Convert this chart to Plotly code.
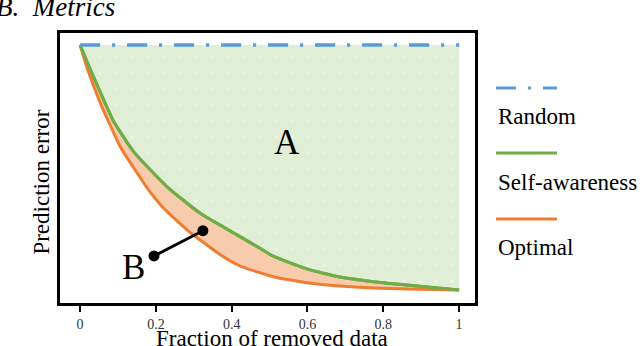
import plotly.graph_objects as go

# data
random_x = [0, 1]
random_y = [1, 1]

aware_x = [0, 0.03, 0.061, 0.088, 0.141, 0.229, 0.317, 0.422, 0.475, 0.51,
           0.598, 0.686, 0.774, 0.862, 1.0]
aware_y = [1, 0.89, 0.78, 0.69, 0.565, 0.422, 0.313, 0.218, 0.17, 0.138,
           0.086, 0.053, 0.034, 0.02, 0]

optimal_x = [0, 0.02, 0.053, 0.106, 0.141, 0.18, 0.22, 0.29, 0.317, 0.369,
             0.422, 0.51, 0.598, 0.686, 0.774, 0.862, 1.0]
optimal_y = [1, 0.9, 0.765, 0.585, 0.5, 0.41, 0.335, 0.235, 0.204, 0.145,
             0.098, 0.054, 0.03, 0.016, 0.008, 0.004, 0]

pointer_x = [0.195, 0.324]
pointer_y = [0.139, 0.242]

x_ticks = [0, 0.2, 0.4, 0.6, 0.8, 1]
x_ticklabels = ["0", "0.2", "0.4", "0.6", "0.8", "1"]

legend_names = ["Random", "Self-awareness", "Optimal"]

BLUE = "#5b9bd5"
GREEN = "#70ad47"
ORANGE = "#ed7d31"
SERIF = "Liberation Serif, Times New Roman, DejaVu Serif, serif"
DASHDOT = "20px,12px,3px,12px"

fig = go.Figure()

fig.add_trace(go.Scatter(
    x=random_x, y=random_y, mode="lines",
    line=dict(color=BLUE, width=3, dash=DASHDOT),
    showlegend=False, hoverinfo="skip"
))
fig.add_trace(go.Scatter(
    x=aware_x, y=aware_y, mode="lines",
    line=dict(color=GREEN, width=3, shape="spline", smoothing=0.5),
    fill="tonexty", fillcolor="#e2efda",
    fillpattern=dict(shape=".", fgcolor="rgba(255,255,255,0.75)",
                     bgcolor="#e0eed6", size=16, solidity=0.05),
    showlegend=False, hoverinfo="skip"
))
fig.add_trace(go.Scatter(
    x=optimal_x, y=optimal_y, mode="lines",
    line=dict(color=ORANGE, width=3, shape="spline", smoothing=0.5),
    fill="tonexty", fillcolor="#f8cbad",
    showlegend=False, hoverinfo="skip"
))
# redraw the green and blue lines so they sit above the fills
fig.add_trace(go.Scatter(
    x=aware_x, y=aware_y, mode="lines",
    line=dict(color=GREEN, width=3, shape="spline", smoothing=0.5),
    showlegend=False, hoverinfo="skip"
))
fig.add_trace(go.Scatter(
    x=random_x, y=random_y, mode="lines",
    line=dict(color=BLUE, width=3, dash=DASHDOT),
    showlegend=False, hoverinfo="skip"
))
fig.add_trace(go.Scatter(
    x=pointer_x, y=pointer_y, mode="lines+markers",
    line=dict(color="black", width=3),
    marker=dict(color="black", size=11),
    showlegend=False, hoverinfo="skip"
))

# area labels
fig.add_annotation(x=0.546, y=0.604, text="A", showarrow=False,
                   font=dict(family=SERIF, size=35, color="black"))
fig.add_annotation(x=0.14, y=0.09, text="B", showarrow=False,
                   font=dict(family=SERIF, size=35, color="black"))

# panel title, partly clipped at the top-left like the source
fig.add_annotation(xref="paper", yref="paper", x=0, y=1.095,
                   xanchor="left", yanchor="middle", xshift=-66,
                   text="<i>B.\u00a0\u00a0Metrics</i>", showarrow=False,
                   font=dict(family=SERIF, size=27, color="black"))

# axis titles
fig.add_annotation(xref="paper", yref="paper", x=0.5, y=-0.133,
                   xanchor="center", yanchor="middle", xshift=4,
                   text="Fraction of removed data", showarrow=False,
                   font=dict(family=SERIF, size=23, color="black"))
fig.add_annotation(xref="paper", yref="paper", x=0, y=0.446,
                   xanchor="center", yanchor="middle", xshift=-18,
                   text="Prediction error", textangle=-90, showarrow=False,
                   font=dict(family=SERIF, size=23, color="black"))

# legend drawn as line sample above each name
legend_colors = [BLUE, GREEN, ORANGE]
legend_dash = [DASHDOT, "solid", "solid"]
line_y = [0.796, 0.556, 0.311]
text_y = [0.689, 0.448, 0.207]
for name, color, dash, ly, ty in zip(legend_names, legend_colors,
                                     legend_dash, line_y, text_y):
    fig.add_shape(type="line", xref="paper", yref="paper",
                  x0=1.0506, x1=1.1976, y0=ly, y1=ly,
                  line=dict(color=color, width=3, dash=dash))
    fig.add_annotation(xref="paper", yref="paper", x=1.05, y=ty,
                       xanchor="left", yanchor="middle", text=name,
                       showarrow=False,
                       font=dict(family=SERIF, size=23, color="black"))

fig.update_layout(
    width=640, height=346,
    margin=dict(l=60, r=165, t=33, b=43),
    paper_bgcolor="white", plot_bgcolor="white",
    showlegend=False,
)
fig.update_xaxes(
    range=[-0.053, 1.042], tickvals=x_ticks, ticktext=x_ticklabels,
    showgrid=False, zeroline=False,
    showline=True, linecolor="black", linewidth=3, mirror=True,
    ticks="outside", ticklen=6, tickwidth=2, tickcolor="black",
    tickfont=dict(family=SERIF, size=14, color="#333333"),
    ticklabelstandoff=0,
)
fig.update_yaxes(
    range=[-0.053, 1.049], showticklabels=False,
    showgrid=False, zeroline=False,
    showline=True, linecolor="black", linewidth=3, mirror=True,
    ticks="",
)

# drop the page's default body margin so the figure fills the window
fig.write_html("out.html",
               config={"displayModeBar": False},
               post_script="document.body.style.margin = '0';")
